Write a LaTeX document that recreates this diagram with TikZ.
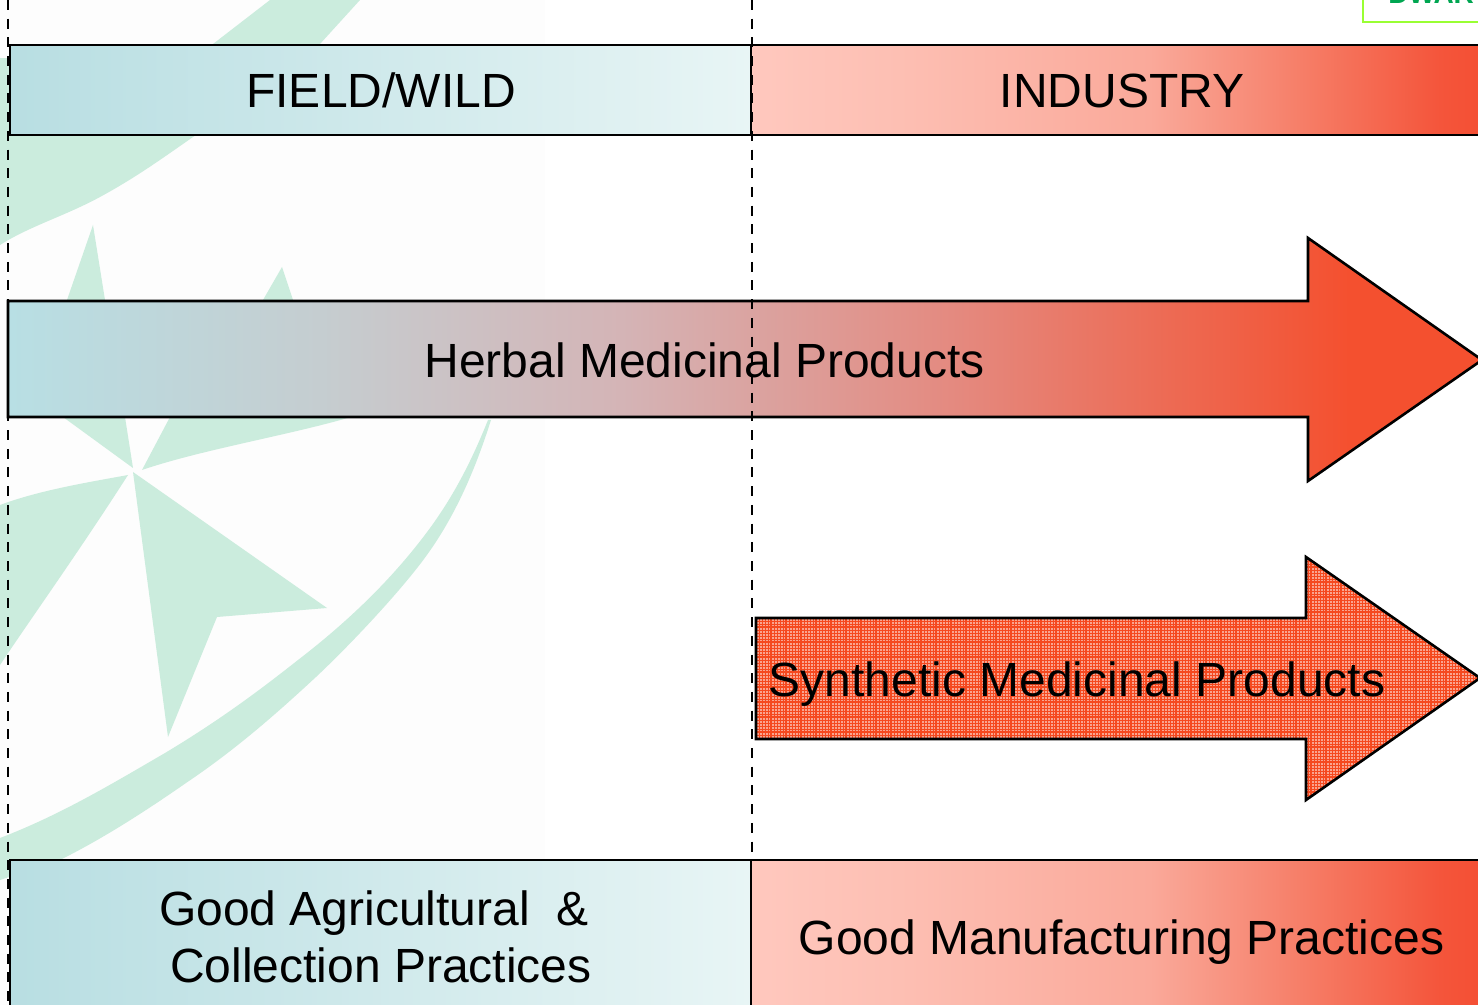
\documentclass[tikz,border=0pt]{standalone}
\usepackage{fontspec}
\setmainfont{Liberation Sans}
\definecolor{leafgreen}{HTML}{CBECDD}
\definecolor{paper}{HTML}{FDFDFD}
\definecolor{hatchbase}{HTML}{FAA490}
\definecolor{hatchline}{HTML}{F5491F}
\definecolor{fa}{HTML}{B8DEE2}\definecolor{fb}{HTML}{E8F5F5}
\definecolor{ia}{HTML}{FFC8BE}\definecolor{ib}{HTML}{FDBFB3}\definecolor{ic}{HTML}{FAA99A}\definecolor{id}{HTML}{F67F69}\definecolor{ie}{HTML}{F4553B}\definecolor{if}{HTML}{F44E32}
\definecolor{ha}{HTML}{B8DFE4}\definecolor{hb}{HTML}{C5CDD0}\definecolor{hc}{HTML}{D4B4B6}\definecolor{hd}{HTML}{E48A80}\definecolor{he}{HTML}{F4502F}
\pgfdeclarehorizontalshading{fieldgrad}{100bp}{color(0bp)=(fa);color(25bp)=(fa);color(75bp)=(fb);color(100bp)=(fb)}
\pgfdeclarehorizontalshading{industrygrad}{100bp}{color(0bp)=(ia);color(25bp)=(ia);color(35bp)=(ib);color(52bp)=(ic);color(62bp)=(id);color(71.6bp)=(ie);color(75bp)=(if);color(100bp)=(if)}
\pgfdeclarehorizontalshading{herbalgrad}{100bp}{color(0bp)=(ha);color(25bp)=(ha);color(35.6bp)=(hb);color(45.8bp)=(hc);color(57bp)=(hd);color(70.5bp)=(he);color(75bp)=(he);color(100bp)=(he)}
\tikzset{
  bandbox/.style={draw=black,line width=1.3pt,rectangle,inner sep=0pt,outer sep=0pt},
  arrowline/.style={draw=black,line width=1.3pt,line join=miter},
  bigtext/.style={font=\fontsize{24}{26}\selectfont,text=black,anchor=base,inner sep=0pt},
  guide/.style={draw=black,line width=1.3pt,dash pattern=on 5pt off 4.35pt},
  leaf/.style={fill=leafgreen,draw=none},
}
\begin{document}
\begin{tikzpicture}[x=0.5pt,y=-0.5pt]
\useasboundingbox (0,0) rectangle (1478,1005);
\clip (0,0) rectangle (1478,1005);
\fill[white] (0,0) rectangle (1478,1005);
\fill[paper] (0,0) rectangle (545,1005);
% watermark
\path[leaf] (270,0) -- (360,0) -- (320,44) .. controls (270,90) and (235,110) .. (193,137)
  .. controls (160,160) and (135,178) .. (100,197) .. controls (65,216) and (30,226) .. (0,245) -- (0,58)
  .. controls (90,60) and (170,80) .. (213,44) -- cycle;
\path[leaf] (93,225) -- (105,300) -- (125,417) -- (133,468) -- (63,417) -- (67,300) -- cycle;
\path[leaf] (282,267) -- (293,300) -- (351,417) .. controls (290,435) and (200,450) .. (142,470) -- (170,417) -- (263,300) -- cycle;
\path[leaf] (128,475) .. controls (90,482) and (40,490) .. (0,505) -- (0,665) .. controls (30,620) and (80,550) .. (128,475) -- cycle;
\path[leaf] (133,472) -- (327,608) -- (217,617) -- (168,737) -- cycle;
\path[leaf] (0,838) .. controls (60,815) and (110,785) .. (165,753)
  .. controls (220,720) and (260,690) .. (298,660)
  .. controls (350,620) and (390,580) .. (421,540)
  .. controls (450,503) and (470,465) .. (488,420) -- (491,420)
  .. controls (472,480) and (450,525) .. (421,563)
  .. controls (395,597) and (350,645) .. (316,677)
  .. controls (275,715) and (235,750) .. (186,783)
  .. controls (140,815) and (100,840) .. (60,860) -- (0,880) -- cycle;
% logo box, cut by the page edge
\definecolor{logoline}{RGB}{153,255,51}
\definecolor{logotext}{RGB}{0,166,81}
\draw[draw=logoline,line width=1pt] (1363,-20) rectangle (1500,22);
\node[anchor=base west,inner sep=0pt,text=logotext,font=\fontsize{14}{16}\selectfont\bfseries] (logo) at (1388,4) {DWAR};
% header and footer bands
\coordinate (fieldC) at (380.5,90);
\coordinate (indC) at (1120.5,90);
\coordinate (gapC) at (380.5,935);
\coordinate (gmpC) at (1120.5,935);
\node[bandbox,shading=fieldgrad,minimum width=370.5pt,minimum height=45pt] (field) at (fieldC) {};
\node[bandbox,shading=industrygrad,minimum width=369.5pt,minimum height=45pt] (industry) at (indC) {};
\node[bandbox,shading=fieldgrad,minimum width=370.5pt,minimum height=75pt] (gapbox) at (gapC) {};
\node[bandbox,shading=industrygrad,minimum width=369.5pt,minimum height=75pt] (gmpbox) at (gmpC) {};
% herbal arrow
\shade[shading=herbalgrad] (8,301) -- (1308,301) -- (1308,238) -- (1482,360) -- (1308,481) -- (1308,417) -- (8,417) -- cycle;
\draw[arrowline] (8,301) -- (1308,301) -- (1308,238) -- (1482,360) -- (1308,481) -- (1308,417) -- (8,417) -- cycle;
% synthetic arrow with woven fill
\begin{scope}
\clip (756,618) -- (1306,618) -- (1306,557) -- (1480,678) -- (1306,800) -- (1306,739) -- (756,739) -- cycle;
\fill[hatchbase] (750,550) rectangle (1480,805);
\foreach \gx in {756,759,...,1480} \draw[hatchline,line width=0.32pt] (\gx,550) -- (\gx,805);
\foreach \gy in {552,555,...,805} \draw[hatchline,line width=0.32pt] (750,\gy) -- (1480,\gy);
\foreach \gx in {756,771,...,1480} \draw[hatchline,line width=0.7pt] (\gx,550) -- (\gx,805);
\foreach \gy in {552,567,...,805} \draw[hatchline,line width=0.7pt] (750,\gy) -- (1480,\gy);
\end{scope}
\draw[arrowline] (756,618) -- (1306,618) -- (1306,557) -- (1480,678) -- (1306,800) -- (1306,739) -- (756,739) -- cycle;
% guides
\coordinate (guideAtop) at (8,0);
\coordinate (guideAbot) at (8,1005);
\coordinate (guideBtop) at (752,0);
\coordinate (guideBbot) at (752,860);
\draw[guide] (guideAtop) -- (guideAbot);
\draw[guide] (guideBtop) -- (guideBbot);
% labels
\node[bigtext] (fieldT) at (381,108) {FIELD/WILD};
\node[bigtext] (indT) at (1122,108) {INDUSTRY};
\node[bigtext] (herbT) at (704.5,378) {Herbal Medicinal Products};
\node[bigtext] (synT) at (1077,696) {Synthetic Medicinal Products};
\node[bigtext] (gapT1) at (374,925) {Good Agricultural~~\&};
\node[bigtext] (gapT2) at (381,982) {Collection Practices};
\node[bigtext] (gmpT) at (1121.5,954) {Good Manufacturing Practices};
\end{tikzpicture}
\end{document}
